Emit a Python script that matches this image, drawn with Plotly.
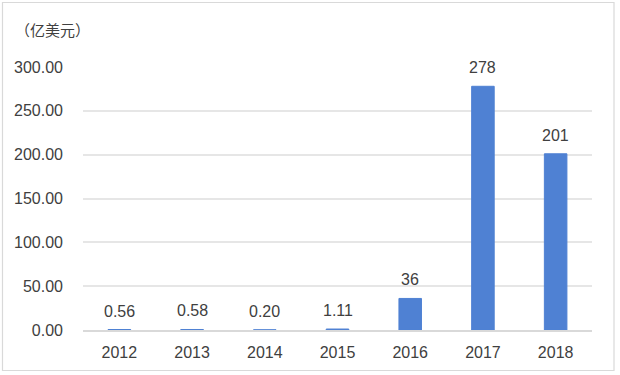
import plotly.graph_objects as go

years = ["2012", "2013", "2014", "2015", "2016", "2017", "2018"]
values = [0.56, 0.58, 0.20, 1.11, 36, 278, 201]
value_labels = ["0.56", "0.58", "0.20", "1.11", "36", "278", "201"]
y_ticks = [0, 50, 100, 150, 200, 250, 300]
y_tick_labels = ["0.00", "50.00", "100.00", "150.00", "200.00", "250.00", "300.00"]
unit_label = "（亿美元）"

BAR = "#4F81D3"
TXT = "#404040"
FONT = "Liberation Sans, Arial, Noto Sans CJK SC, sans-serif"

fig = go.Figure()
fig.add_trace(go.Bar(
    x=years, y=values,
    marker=dict(color=BAR, line=dict(color=BAR, width=1)),
    hoverinfo="x+y",
))

for i, (v, t) in enumerate(zip(values, value_labels)):
    fig.add_annotation(x=i, y=v, text=t, showarrow=False, yanchor="bottom",
                       yshift=8, font=dict(size=16, color=TXT, family=FONT))

L, R, T, B = 83, 28, 67, 45
W, H = 620, 375
pw, ph = W - L - R, H - T - B

def px_x(p):
    return (p - L) / pw

def px_y(p):
    return (H - B - p) / ph

fig.add_annotation(xref="paper", yref="paper", x=px_x(13), y=px_y(29),
                   xanchor="left", yanchor="middle", text=unit_label,
                   showarrow=False, font=dict(size=15, color=TXT, family="Noto Sans CJK SC"))

fig.add_shape(type="rect", xref="paper", yref="paper",
              x0=px_x(2.5), x1=px_x(614), y0=px_y(370.5), y1=px_y(2.5),
              line=dict(color="#D9D9D9", width=1.2), layer="below")

fig.update_layout(
    width=W, height=H,
    margin=dict(l=L, r=R, t=T, b=B),
    paper_bgcolor="white", plot_bgcolor="white",
    bargap=0.69,
    showlegend=False,
    font=dict(family=FONT, size=16, color=TXT),
    xaxis=dict(type="category", range=[-0.5, len(years) - 0.5], showgrid=False,
               showline=True, linecolor="#D9D9D9", layer="below traces",
               linewidth=1.5, ticks="", tickfont=dict(size=16, color=TXT),
               ticklabelstandoff=7, fixedrange=True),
    yaxis=dict(range=[0, 300], tickvals=y_ticks, ticktext=y_tick_labels,
               showgrid=True, gridcolor="#E6E6E6", gridwidth=1.5,
               zeroline=False, showline=False, ticks="",
               tickfont=dict(size=16, color=TXT), ticklabelstandoff=19,
               fixedrange=True),
)

fig.write_html("out.html", config={"displayModeBar": False},
               post_script="document.body.style.margin='0';")
